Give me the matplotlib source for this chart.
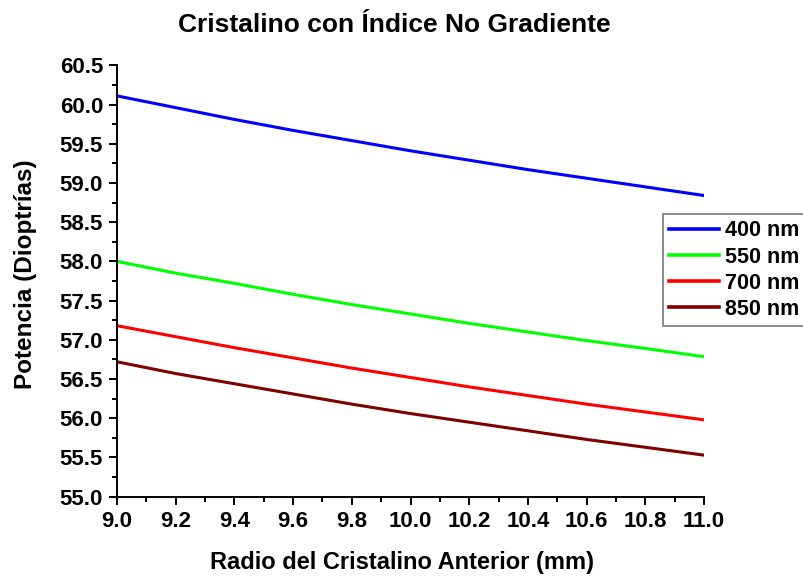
import matplotlib
matplotlib.use("Agg")
import matplotlib.pyplot as plt
from matplotlib.ticker import MultipleLocator, FormatStrFormatter

plt.rcParams['font.family'] = ['Liberation Sans', 'DejaVu Sans']
plt.rcParams['font.weight'] = 'bold'

radio = [9.0, 9.2, 9.4, 9.6, 9.8, 10.0, 10.2, 10.4, 10.6, 10.8, 11.0]
p400 = [60.11, 59.96, 59.81, 59.67, 59.54, 59.41, 59.29, 59.17, 59.06, 58.95, 58.84]
p550 = [58.00, 57.85, 57.72, 57.58, 57.45, 57.33, 57.21, 57.10, 56.99, 56.89, 56.785]
p700 = [57.18, 57.04, 56.90, 56.77, 56.64, 56.52, 56.40, 56.29, 56.18, 56.08, 55.98]
p850 = [56.72, 56.57, 56.44, 56.31, 56.18, 56.06, 55.95, 55.84, 55.73, 55.63, 55.53]
labels = ['400 nm', '550 nm', '700 nm', '850 nm']
colors = ['#0000FF', '#00FF00', '#FF0000', '#800000']

W, H = 804, 579
fig = plt.figure(figsize=(W / 100, H / 100), dpi=100)
ax = fig.add_axes([117 / W, 1 - 496.7 / H, (704 - 117) / W, (496.7 - 65.3) / H])

for ys, lab, c in zip([p400, p550, p700, p850], labels, colors):
    ax.plot(radio, ys, color=c, lw=2.2, label=lab)

ax.set_xlim(9.0, 11.0)
ax.set_ylim(55.0, 60.5)
ax.xaxis.set_major_locator(MultipleLocator(0.2))
ax.xaxis.set_minor_locator(MultipleLocator(0.1))
ax.yaxis.set_major_locator(MultipleLocator(0.5))
ax.yaxis.set_minor_locator(MultipleLocator(0.25))
ax.xaxis.set_major_formatter(FormatStrFormatter('%.1f'))
ax.yaxis.set_major_formatter(FormatStrFormatter('%.1f'))

for s in ['top', 'right']:
    ax.spines[s].set_visible(False)
for s in ['left', 'bottom']:
    ax.spines[s].set_linewidth(1.4)

ax.tick_params(which='major', direction='out', length=6, width=1.4, labelsize=16, pad=4)
ax.tick_params(which='minor', direction='out', length=3.5, width=1.4)
for t in ax.get_xticklabels() + ax.get_yticklabels():
    t.set_fontweight('bold')

fig.text(402 / W, 1 - 563 / H, 'Radio del Cristalino Anterior (mm)', fontsize=17,
         fontweight='bold', ha='center', va='center')
fig.text(26 / W, 1 - 274 / H, 'Potencia (Dioptrías)', fontsize=17.5,
         fontweight='bold', ha='center', va='center', rotation=90)
fig.text(394.5 / W, 1 - 25 / H, 'Cristalino con Índice No Gradiente', fontsize=19,
         fontweight='bold', ha='center', va='center')

leg = fig.legend(loc='upper left', bbox_to_anchor=(663 / W, 1 - 214 / H), fontsize=15.5,
                 handlelength=2.3, handletextpad=0.28, labelspacing=0.24,
                 borderpad=0.3, frameon=True, fancybox=False, borderaxespad=0)
leg.get_frame().set_edgecolor('#555555')
leg.get_frame().set_linewidth(1.2)
for line in leg.get_lines():
    line.set_linewidth(2.6)
for t in leg.get_texts():
    t.set_fontweight('bold')

fig.savefig('out.png', dpi=100)
